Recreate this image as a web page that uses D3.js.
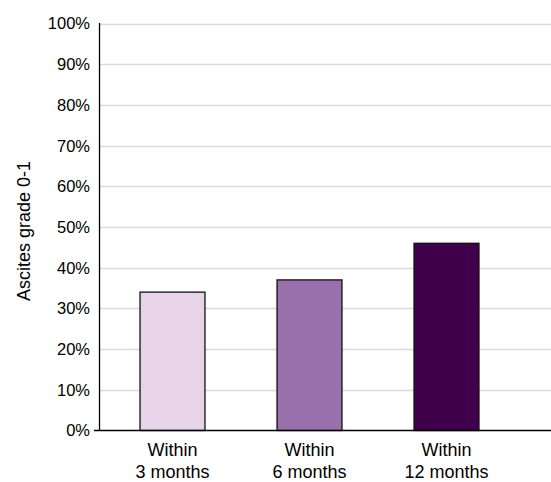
<!DOCTYPE html>
<html>
<head>
<meta charset="utf-8">
<script src="https://cdn.jsdelivr.net/npm/d3@7"></script>
<style>
  body { margin: 0; background: #fff; }
  svg text { font-family: "Liberation Sans", Arial, sans-serif; fill: #000; }
</style>
</head>
<body>
<svg id="chart" width="551" height="482"></svg>
<script>
// ── Data ─────────────────────────────────────────────────────────────────────
const categories = ["Within\n3 months", "Within\n6 months", "Within\n12 months"];
const values     = [0.34, 0.37, 0.46];
const colors     = ["#e7d4e8", "#9970ab", "#40004b"];
const yTicks     = [0, .1, .2, .3, .4, .5, .6, .7, .8, .9, 1];
const yLabel     = "Ascites grade 0-1";

const W = 551, H = 482;
const svg = d3.select("#chart");

// ── Scales ───────────────────────────────────────────────────────────────────
const y = d3.scaleLinear().domain([0, 1]).range([430.5, 23.5]);
const x = d3.scaleBand().domain(categories).range([104, 515])
  .paddingInner(0.526).paddingOuter(0.263);

const axisX = 99.5;

// ── Gridlines ────────────────────────────────────────────────────────────────
svg.append("g")
  .selectAll("line")
  .data(yTicks.filter(d => d > 0))
  .join("line")
  .attr("x1", axisX).attr("x2", W)
  .attr("y1", d => Math.round(y(d)) + 0.5).attr("y2", d => Math.round(y(d)) + 0.5)
  .attr("stroke", "#d9d9d9").attr("stroke-width", 1.5);

// ── Bars ─────────────────────────────────────────────────────────────────────
svg.append("g")
  .selectAll("rect")
  .data(values)
  .join("rect")
  .attr("x", (d, i) => x(categories[i]))
  .attr("y", d => y(d))
  .attr("width", x.bandwidth())
  .attr("height", d => y(0) - y(d))
  .attr("fill", (d, i) => colors[i])
  .attr("stroke", "#111").attr("stroke-width", 1.3);

// ── Axis lines ───────────────────────────────────────────────────────────────
svg.append("line")
  .attr("x1", axisX).attr("x2", axisX)
  .attr("y1", y(1) - 0.5).attr("y2", y(0))
  .attr("stroke", "#000").attr("stroke-width", 1.3);
svg.append("line")
  .attr("x1", 94).attr("x2", W)
  .attr("y1", y(0)).attr("y2", y(0))
  .attr("stroke", "#000").attr("stroke-width", 1.5);

// ── Y tick labels ────────────────────────────────────────────────────────────
svg.append("g")
  .selectAll("text")
  .data(yTicks)
  .join("text")
  .attr("x", 90)
  .attr("y", d => y(d))
  .attr("dy", "0.36em")
  .attr("text-anchor", "end")
  .attr("font-size", 16.5)
  .text(d => d3.format(".0%")(d));

// ── X labels ─────────────────────────────────────────────────────────────────
const xl = svg.append("g")
  .selectAll("text")
  .data(categories)
  .join("text")
  .attr("text-anchor", "middle")
  .attr("font-size", 18)
  .attr("transform", d => `translate(${x(d) + x.bandwidth() / 2},0)`);
xl.selectAll("tspan")
  .data(d => d.split("\n"))
  .join("tspan")
  .attr("x", 0)
  .attr("y", (d, i) => 456 + i * 21.5)
  .text(d => d);

// ── Y axis title ─────────────────────────────────────────────────────────────
svg.append("text")
  .attr("transform", "translate(30,231) rotate(-90)")
  .attr("text-anchor", "middle")
  .attr("font-size", 18)
  .text(yLabel);
</script>
</body>
</html>
